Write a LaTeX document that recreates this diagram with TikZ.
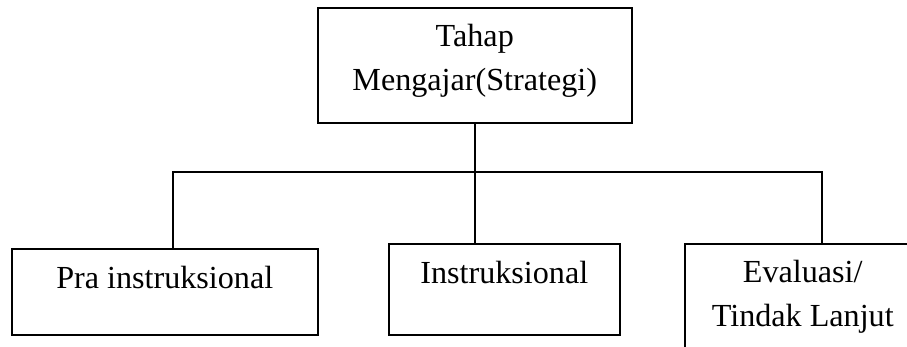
\documentclass[tikz,border=0pt]{standalone}
\usepackage{fontspec}
\setmainfont{Liberation Serif}
\tikzset{
  box/.style={draw,line width=0.9pt,rectangle,anchor=north west,inner sep=0pt,
    align=center,font=\fontsize{18.3}{25.3}\selectfont},
  link/.style={line width=0.9pt}
}
\begin{document}
\begin{tikzpicture}[x=0.02cm,y=-0.02cm]
  \useasboundingbox (0,0) rectangle (907,346);
  \clip (0,0) rectangle (907,346);
  % atas
  \node [box,minimum width=6.28cm,text height=1.66cm,text depth=0.64cm] (tahap) at (317,7) {Tahap\\Mengajar(Strategi)};
  % bawah
  \node [box,minimum width=6.12cm,text height=0.8cm,text depth=0.92cm] (pra) at (11,248) {Pra instruksional};
  \node [box,minimum width=4.62cm,text height=0.8cm,text depth=1.02cm] (ins) at (388,243) {Instruksional};
  \node [box,minimum width=4.72cm,text height=1.66cm,text depth=0.88cm] (eval) at (684,243) {Evaluasi/\\Tindak Lanjut};
  \coordinate (bar) at (tahap.south |- 0,172);
  \draw [link] (tahap.south) -- (bar);
  \draw [link] ([xshift=0.16cm]pra.north) |- (bar) -| ([xshift=0.38cm]eval.north);
  \draw [link] (bar) -- (bar |- ins.north);
\end{tikzpicture}
\end{document}
